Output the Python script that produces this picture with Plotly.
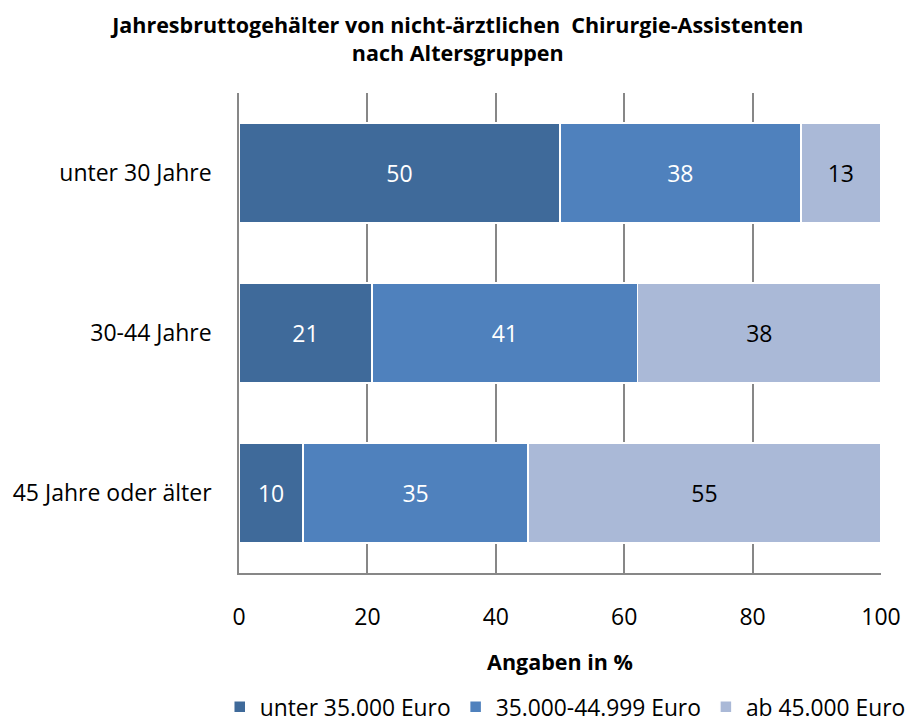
import plotly.graph_objects as go

categories = ["unter 30 Jahre", "30-44 Jahre", "45 Jahre oder älter"]
series_names = ["unter 35.000 Euro", "35.000-44.999 Euro", "ab 45.000 Euro"]
s1 = [50.0, 20.7, 10.0]
s2 = [37.5, 41.4, 35.0]
s3 = [12.5, 37.9, 55.0]
x_ticks = [0, 20, 40, 60, 80, 100]

colors = ["#3F6A9A", "#4F81BD", "#AAB9D7"]
text_colors = ["white", "white", "black"]
FONT = "'Open Sans', 'Noto Sans', sans-serif"

# The page body has an 8px margin, so the figure is 8px smaller on each axis
fig = go.Figure()
for name, vals, c, tc in zip(series_names, [s1, s2, s3], colors, text_colors):
    fig.add_trace(go.Bar(
        y=categories, x=vals, name=name, orientation="h",
        marker=dict(color=c, line=dict(color="white", width=1.5)),
        texttemplate="%{x:.0f}", textposition="inside", insidetextanchor="middle",
        textangle=0, textfont=dict(color=tc, size=23, family=FONT),
    ))

fig.update_layout(
    barmode="stack", bargap=0.375,
    width=905, height=718,
    margin=dict(l=231, r=32, t=85, b=153, autoexpand=False),
    paper_bgcolor="white", plot_bgcolor="white",
    font=dict(family=FONT, size=23, color="black"),
    title=dict(
        text="<b>Jahresbruttogehälter von nicht-ärztlichen  Chirurgie-Assistenten<br>nach Altersgruppen</b>",
        x=0.497, xanchor="center", y=1 - 25 / 718, yanchor="middle",
        font=dict(size=21.5, family=FONT),
    ),
    legend=dict(orientation="h", x=-0.03, xanchor="left", y=-0.234, yanchor="top",
                font=dict(size=22.8, family=FONT), traceorder="normal",
                itemwidth=30, tracegroupgap=0),
    showlegend=True,
)
fig.update_xaxes(
    range=[0, 100], tickvals=x_ticks, showgrid=True, gridcolor="#878787", gridwidth=1.5,
    showline=True, linecolor="#878787", linewidth=1.5, zeroline=False,
    ticks="", ticklabelstandoff=23, tickfont=dict(size=23),
    title=dict(text="<b>Angaben in %</b>", font=dict(size=21.5, family=FONT), standoff=24),
)
fig.update_yaxes(
    categoryorder="array", categoryarray=categories, autorange="reversed",
    showline=True, linecolor="#878787", linewidth=1.5, ticks="", ticklabelstandoff=21,
    showgrid=False, tickfont=dict(size=23),
)

fig.write_html("out.html")
